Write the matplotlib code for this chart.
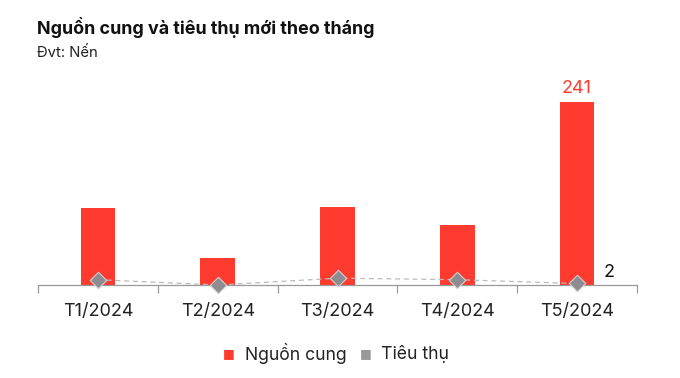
import matplotlib.pyplot as plt
import numpy as np

months = ["T1/2024", "T2/2024", "T3/2024", "T4/2024", "T5/2024"]
nguon_cung = [101, 35, 103, 79, 241]
tieu_thu = [7, 0, 9, 7, 2]

RED = "#FF3B30"
GRAY = "#8C8C91"

plt.rcParams['font.family'] = ['Inter', 'DejaVu Sans']

fig = plt.figure(figsize=(6.8, 3.78), dpi=100)
ax = fig.add_axes([38 / 680, 93 / 378, 599 / 680, 197.4 / 378])

x = np.arange(len(months))
ax.bar(x, nguon_cung, width=0.29, color=RED, zorder=2, label="Nguồn cung")
ax.plot(x, tieu_thu, linestyle=(0, (4, 3)), color="#BBBBBB", linewidth=0.9, zorder=3)
ax.scatter(x, tieu_thu, marker="D", s=70, color=GRAY, edgecolor="#D0D0D0",
           linewidth=0.8, zorder=4, clip_on=False)

ax.text(x[-1], nguon_cung[-1] + 6, str(nguon_cung[-1]), color=RED,
        fontsize=13, ha="center", va="bottom")
ax.text(x[-1] + 0.22, tieu_thu[-1] + 15, str(tieu_thu[-1]), color="#111111",
        fontsize=13, ha="left", va="center")

ax.set_xlim(-0.5, len(months) - 0.5)
ax.set_ylim(0, 260)
ax.set_yticks([])
for s in ["top", "right", "left"]:
    ax.spines[s].set_visible(False)
ax.spines["bottom"].set_color("#999999")
ax.spines["bottom"].set_linewidth(0.9)

ax.set_xticks(np.arange(-0.5, len(months)), minor=True)
ax.set_xticks(x)
ax.set_xticklabels(months, fontsize=13, color="#222222")
ax.tick_params(axis="x", which="major", length=0, pad=13)
ax.tick_params(axis="x", which="minor", length=6, color="#999999", width=0.9)

fig.text(37 / 680, 1 - 27 / 378, "Nguồn cung và tiêu thụ mới theo tháng",
         fontsize=12.9, fontweight="bold", color="#111111", va="center")
fig.text(37 / 680, 1 - 53 / 378, "Đvt: Nến", fontsize=10.7, color="#222222", va="center")

# legend
fig.text(229 / 680, 1 - 354 / 378, "■", color=RED, fontsize=9, ha="center", va="center",
         family="DejaVu Sans")
fig.text(245 / 680, 1 - 354 / 378, "Nguồn cung", fontsize=12.7, color="#222222", va="center")
fig.text(366 / 680, 1 - 354 / 378, "■", color="#999999", fontsize=9, ha="center", va="center",
         family="DejaVu Sans")
fig.text(381 / 680, 1 - 354 / 378, "Tiêu thụ", fontsize=12.7, color="#222222", va="center")

fig.savefig("out.png", dpi=100, facecolor="white")
